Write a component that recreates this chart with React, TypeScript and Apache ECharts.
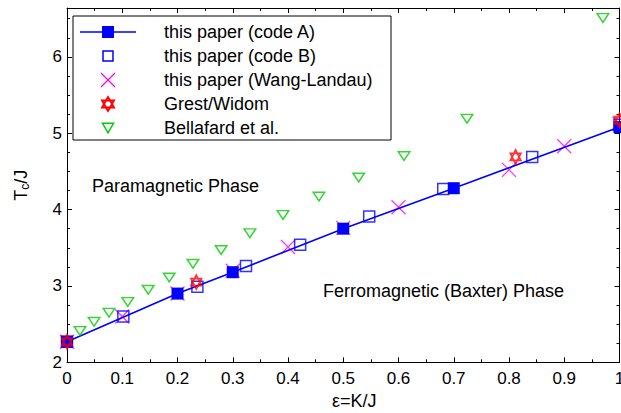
import React, { useEffect, useRef } from "react";
import * as echarts from "echarts";

// ---- data ----
const codeAEps = [0, 0.2, 0.3, 0.5, 0.7, 1.0];
const codeAT = [2.27, 2.9, 3.18, 3.75, 4.28, 5.08];

const codeBEps = [0, 0.102, 0.236, 0.324, 0.422, 0.547, 0.681, 0.842, 1.0];
const codeBT = [2.27, 2.6, 2.99, 3.26, 3.54, 3.91, 4.27, 4.69, 5.11];

const wlEps = [0, 0.1, 0.2, 0.3, 0.4, 0.5, 0.6, 0.8, 0.9, 1.0];
const wlT = [2.27, 2.6, 2.9, 3.2, 3.51, 3.76, 4.03, 4.52, 4.83, 5.12];

const grestEps = [0, 0.234, 0.812, 1.0];
const grestT = [2.27, 3.05, 4.69, 5.17];

const bellEps = [0.0235, 0.049, 0.076, 0.11, 0.147, 0.185, 0.228, 0.279, 0.331, 0.391, 0.456, 0.528, 0.61, 0.724, 0.97];
const bellT = [2.41, 2.53, 2.65, 2.79, 2.95, 3.11, 3.29, 3.47, 3.69, 3.93, 4.17, 4.42, 4.7, 5.19, 6.51];

const legendLabels = [
  "this paper (code A)",
  "this paper (code B)",
  "this paper (Wang-Landau)",
  "Grest/Widom",
  "Bellafard et al.",
];
const phaseLabels = ["Paramagnetic Phase", "Ferromagnetic (Baxter) Phase"];
const xName = "ε=K/J";

const X_MIN = 0, X_MAX = 1, X_STEP = 0.1;
const Y_MIN = 2, Y_MAX = 6.64, Y_STEP = 1, Y_MINOR = 0.25;

// ---- styles ----
const FONT = "Liberation Sans, Arial, Helvetica, sans-serif";
const BLUE = "#0000ff";
const MAGENTA = "#ff00ff";
const RED = "#ff0000";
const GREEN = "#00cc00";
const X_SYMBOL = "path://M0,0L10,10M10,0L0,10";
const STAR_SYMBOL = "path://M5,0L9.33,7.5L0.67,7.5ZM5,10L0.67,2.5L9.33,2.5Z";
const TRI_DOWN = "path://M0,0L10,0L5,8.66Z";

const zip = (a: number[], b: number[]) => a.map((v, i) => [v, b[i]]);

export default function App() {
  const ref = useRef<HTMLDivElement>(null);
  useEffect(() => {
    if (!ref.current) return;
    const chart = echarts.init(ref.current, undefined, { renderer: "svg" });

    const black = { color: "#000", width: 1 };
    const fmtX = (v: number) => String(Number(v.toFixed(2)));

    const rowY = [32, 56, 80, 104, 128];
    const ix = 108;
    const legendGraphics: any[] = [
      { type: "rect", shape: { x: 73, y: 16, width: 318, height: 124 }, style: { fill: "#fff", stroke: "#000", lineWidth: 1 }, z: 10 },
      { type: "line", shape: { x1: 80, y1: rowY[0], x2: 136, y2: rowY[0] }, style: { stroke: BLUE, lineWidth: 1.6 }, z: 11 },
      { type: "rect", shape: { x: ix - 6, y: rowY[0] - 6, width: 12, height: 12 }, style: { fill: BLUE, stroke: BLUE, lineWidth: 0 }, z: 11 },
      { type: "rect", shape: { x: ix - 5, y: rowY[1] - 5, width: 10, height: 10 }, style: { fill: "none", stroke: BLUE, lineWidth: 1.5 }, z: 11 },
      { type: "line", shape: { x1: ix - 7, y1: rowY[2] - 7, x2: ix + 7, y2: rowY[2] + 7 }, style: { stroke: MAGENTA, lineWidth: 1.3 }, z: 11 },
      { type: "line", shape: { x1: ix + 7, y1: rowY[2] - 7, x2: ix - 7, y2: rowY[2] + 7 }, style: { stroke: MAGENTA, lineWidth: 1.3 }, z: 11 },
      { type: "polygon", shape: { points: [[ix, rowY[3] - 7], [ix + 6.06, rowY[3] + 3.5], [ix - 6.06, rowY[3] + 3.5]] }, style: { fill: "none", stroke: RED, lineWidth: 1.8 }, z: 11 },
      { type: "polygon", shape: { points: [[ix, rowY[3] + 7], [ix - 6.06, rowY[3] - 3.5], [ix + 6.06, rowY[3] - 3.5]] }, style: { fill: "none", stroke: RED, lineWidth: 1.8 }, z: 11 },
      { type: "polygon", shape: { points: [[ix - 5.5, rowY[4] - 4.7], [ix + 5.5, rowY[4] - 4.7], [ix, rowY[4] + 4.8]] }, style: { fill: "none", stroke: GREEN, lineWidth: 1.5 }, z: 11 },
    ];
    legendLabels.forEach((t, i) => {
      legendGraphics.push({
        type: "text", x: 164, y: rowY[i], z: 11,
        style: { text: t, fontSize: 18, fontFamily: FONT, fill: "#000", textVerticalAlign: "middle", verticalAlign: "middle" },
      });
    });
    const phaseGraphics = [
      { type: "text", x: 92, y: 186, style: { text: phaseLabels[0], fontSize: 18, fontFamily: FONT, fill: "#000", textVerticalAlign: "middle", verticalAlign: "middle" } },
      { type: "text", x: 323, y: 291, style: { text: phaseLabels[1], fontSize: 18, fontFamily: FONT, fill: "#000", textVerticalAlign: "middle", verticalAlign: "middle" } },
    ];

    const baseX = { type: "value", min: X_MIN, max: X_MAX, interval: X_STEP, splitLine: { show: false } };
    const baseY = { type: "value", min: Y_MIN, max: Y_MAX, splitLine: { show: false } };

    chart.setOption({
      animation: false,
      textStyle: { fontFamily: FONT },
      grid: { left: 67, right: 1.5, top: 8, bottom: 50.7, containLabel: false, outerBoundsMode: "none" },
      xAxis: [
        {
          ...baseX, position: "bottom",
          axisLine: { show: true, lineStyle: black },
          axisTick: { show: true, inside: true, length: 5, lineStyle: black },
          minorTick: { show: true, splitNumber: 2, length: 3, lineStyle: black },
          axisLabel: { fontSize: 17, color: "#000", margin: 8, fontFamily: FONT, formatter: fmtX },
          name: xName, nameLocation: "middle", nameGap: 28,
          nameTextStyle: { fontSize: 18, color: "#000", fontFamily: FONT, padding: [0, 0, 0, 22] },
        },
        {
          ...baseX, position: "top",
          axisLine: { show: true, lineStyle: black },
          axisTick: { show: true, inside: true, length: 5, lineStyle: black },
          minorTick: { show: true, splitNumber: 2, length: 3, lineStyle: black },
          axisLabel: { show: false },
        },
      ],
      yAxis: [
        {
          ...baseY, position: "left", interval: Y_STEP,
          axisLine: { show: true, lineStyle: black },
          axisTick: { show: true, inside: true, length: 5, lineStyle: black },
          axisLabel: { fontSize: 17, color: "#000", margin: 5, fontFamily: FONT, showMaxLabel: false },
          name: "{a|T}{s|c}{a|/J}", nameLocation: "middle", nameGap: 36, nameRotate: 90,
          nameTextStyle: {
            color: "#000", fontFamily: FONT, fontSize: 18,
            rich: {
              a: { fontSize: 18, fontFamily: FONT, color: "#000" },
              s: { fontSize: 12, fontFamily: FONT, color: "#000", padding: [9, 0, 0, 0] },
            },
          },
        },
        {
          ...baseY, position: "left", interval: Y_MINOR,
          axisLine: { show: false },
          axisTick: { show: true, inside: true, length: 3, lineStyle: black },
          axisLabel: { show: false },
        },
        {
          ...baseY, position: "right", interval: Y_STEP,
          axisLine: { show: true, lineStyle: black },
          axisTick: { show: true, inside: true, length: 5, lineStyle: black },
          axisLabel: { show: false },
        },
        {
          ...baseY, position: "right", interval: Y_MINOR,
          axisLine: { show: false },
          axisTick: { show: true, inside: true, length: 3, lineStyle: black },
          axisLabel: { show: false },
        },
      ],
      series: [
        {
          name: legendLabels[2], type: "scatter", data: zip(wlEps, wlT), silent: true,
          symbol: X_SYMBOL, symbolSize: 14,
          itemStyle: { color: "transparent", borderColor: MAGENTA, borderWidth: 1.3 }, z: 2,
        },
        {
          name: legendLabels[0], type: "line", data: zip(codeAEps, codeAT), silent: true,
          symbol: "rect", symbolSize: 12, showAllSymbol: true,
          lineStyle: { color: BLUE, width: 1.6 },
          itemStyle: { color: BLUE, borderWidth: 0 }, z: 3,
        },
        {
          name: legendLabels[1], type: "scatter", data: zip(codeBEps, codeBT), silent: true,
          symbol: "rect", symbolSize: 11,
          itemStyle: { color: "transparent", borderColor: BLUE, borderWidth: 1.5 }, z: 4,
        },
        {
          name: legendLabels[3], type: "scatter", data: zip(grestEps, grestT), silent: true,
          symbol: STAR_SYMBOL, symbolSize: [12, 14], symbolKeepAspect: true,
          itemStyle: { color: "transparent", borderColor: RED, borderWidth: 1.8 }, z: 5,
        },
        {
          name: legendLabels[4], type: "scatter", data: zip(bellEps, bellT), silent: true,
          symbol: TRI_DOWN, symbolSize: [11.5, 10], symbolKeepAspect: true,
          itemStyle: { color: "transparent", borderColor: GREEN, borderWidth: 1.5 }, z: 5,
        },
      ],
      graphic: [...legendGraphics, ...phaseGraphics],
    });
    return () => chart.dispose();
  }, []);
  return <div ref={ref} style={{ position: "absolute", left: 0, top: 0, width: 621, height: 413 }} />;
}
